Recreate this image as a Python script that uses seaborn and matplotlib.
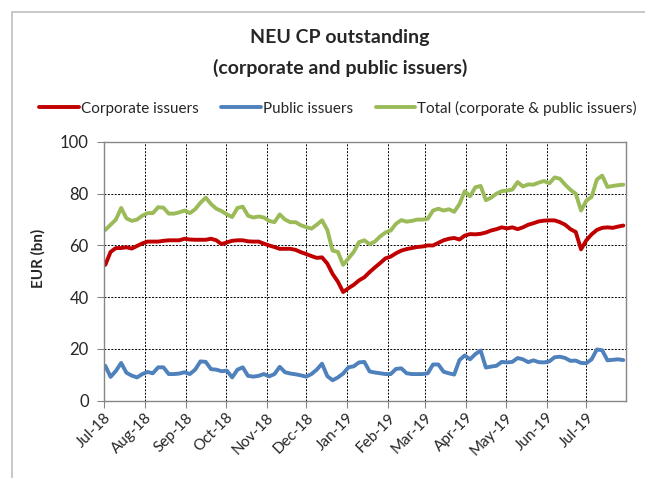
import pandas as pd
import matplotlib
import matplotlib.pyplot as plt
import matplotlib.dates as mdates
import seaborn as sns

matplotlib.use('Agg')

# one reading every 4 days, starting Mon 2 Jul 2018
dates = pd.date_range('2018-07-02', periods=99, freq='4D')

corporate = [52.5, 57.5, 59, 59, 59.3, 58.8, 59.8, 60.8, 61.5, 61.5,
             61.5, 61.8, 62, 62, 62, 62.6, 62.3, 62.2, 62.2, 62.2,
             62.6, 62, 60.5, 61.2, 61.8, 62, 62, 61.6, 61.5, 61.5,
             60.7, 60, 59.4, 58.7, 58.7, 58.7, 58.3, 57.4, 56.7, 55.9,
             55.2, 55.4, 53, 49, 46, 42, 43.5, 44.8, 46.5, 47.7,
             49.7, 51.5, 53.2, 55, 55.7, 57, 58, 58.6, 59, 59.4,
             59.6, 60, 60, 61, 62, 62.6, 62.9, 62.3, 63.8, 64.4,
             64.3, 64.5, 65, 65.8, 66.3, 67, 66.6, 67, 66.3, 67,
             68, 68.6, 69.3, 69.6, 69.7, 69.7, 69, 68, 66.3, 65.2,
             58.5, 62, 64.3, 66, 66.8, 67, 66.8, 67.3, 67.7]

public = [13.5, 9.2, 11.5, 14.6, 10.8, 9.7, 9, 10.3, 11.1, 10.6,
          12.9, 12.9, 10.3, 10.3, 10.5, 11, 10.3, 12, 15.2, 15,
          12.2, 12, 11.4, 11.6, 9, 12, 12.9, 9.6, 9.3, 9.6,
          10.3, 9.4, 10.3, 13.1, 11, 10.5, 10.2, 9.8, 9.3, 10.3,
          12, 14.3, 9.5, 7.9, 9, 10.5, 12.9, 13.3, 14.8, 15,
          11.3, 10.9, 10.6, 10.3, 10.3, 12.3, 12.5, 10.6, 10.3, 10.3,
          10.3, 10.6, 14, 14, 11.2, 10.6, 10.1, 15.7, 17.5, 16,
          18, 19.4, 12.8, 13.2, 13.5, 15, 14.8, 15, 16.5, 16,
          14.9, 15.6, 14.9, 14.8, 15.2, 16.8, 17, 16.5, 15.4, 15.5,
          14.6, 14.5, 16, 19.8, 19.5, 15.6, 15.8, 16, 15.7]

total = [66, 68, 70, 74.5, 70.5, 69.5, 70, 71.5, 72.5, 72.5,
         74.8, 74.6, 72.3, 72.3, 72.8, 73.5, 72.5, 74, 76.5, 78.5,
         76, 74.2, 73.3, 72, 71, 74.5, 75, 71.5, 70.8, 71.2,
         70.8, 69.5, 69, 72, 70, 69, 69, 67.8, 67.1, 66.5,
         68, 69.7, 66, 58, 57.5, 52.5, 55, 57.5, 61.3, 62,
         60.5, 61.5, 63.5, 65, 65.8, 68.4, 69.8, 69.2, 69.5, 70,
         70, 70.3, 73.5, 74.2, 73.5, 74, 73, 76, 81, 79,
         82.5, 83, 77.5, 78.5, 80, 81, 81.2, 81.6, 84.5, 82.8,
         83.6, 83.5, 84.3, 84.9, 84, 86.3, 85.8, 83.5, 81.5, 80,
         73.5, 77.3, 78.8, 85.5, 87, 82.6, 83, 83.3, 83.5]

series_names = ['Corporate issuers', 'Public issuers',
                'Total (corporate & public issuers)']
colors = ['#C00000', '#4F81BD', '#9BBB59']
month_ticks = pd.date_range('2018-07-01', '2019-07-01', freq='MS')
y_ticks = [0, 20, 40, 60, 80, 100]

df = pd.concat([
    pd.DataFrame({'date': dates, 'value': vals, 'series': name})
    for name, vals in zip(series_names, [corporate, public, total])
])

sns.set_style('white')
plt.rcParams['font.family'] = ['Lato', 'DejaVu Sans']

fig = plt.figure(figsize=(6.45, 4.78), dpi=100)
ax = fig.add_axes([0.1612, 0.1617, 0.8093, 0.5413])

sns.lineplot(data=df, x='date', y='value', hue='series',
             palette=dict(zip(series_names, colors)),
             linewidth=2.8, ax=ax, legend=False)

ax.set_xlim(pd.Timestamp('2018-07-01'), pd.Timestamp('2019-07-31'))
ax.set_ylim(0, 100)
ax.set_xticks(month_ticks)
ax.xaxis.set_major_formatter(mdates.DateFormatter('%b-%y'))
ax.set_yticks(y_ticks)
ax.tick_params(axis='x', labelsize=11, length=5, color='#868686',
               direction='out', bottom=True, pad=2)
ax.tick_params(axis='y', labelsize=12, length=5, color='#868686',
               direction='out', left=True, pad=6)
for lbl in ax.get_xticklabels():
    lbl.set_rotation(45)
    lbl.set_ha('right')
    lbl.set_rotation_mode('anchor')

ax.grid(True, color='black', linestyle=(0, (2, 1.5)), linewidth=0.7)
for sp in ax.spines.values():
    sp.set_color('#868686')
    sp.set_linewidth(1)

ax.set_xlabel('')
ax.set_ylabel('EUR (bn)', fontsize=11, fontweight='bold')
ax.yaxis.set_label_coords(-0.112, 0.55)

fig.text(0.527, 0.922, 'NEU CP outstanding', ha='center', va='center',
         fontsize=14, fontweight='bold')
fig.text(0.527, 0.857, '(corporate and public issuers)', ha='center',
         va='center', fontsize=14, fontweight='bold')

handles = [plt.Line2D([], [], color=c, linewidth=2.8) for c in colors]
fig.legend(handles, series_names, loc='center', ncol=3,
           bbox_to_anchor=(0.524, 0.774), frameon=False, fontsize=11,
           handlelength=2.6, handletextpad=0.1, columnspacing=1.5)

# chart-area frame
fig.add_artist(plt.Rectangle((12 / 645, -0.1), 1.2, 0.1 + 1 - 12 / 478,
                             transform=fig.transFigure, fill=False,
                             edgecolor='#BFBFBF', linewidth=1.2))

fig.savefig('out.png', dpi=100)
plt.close(fig)
